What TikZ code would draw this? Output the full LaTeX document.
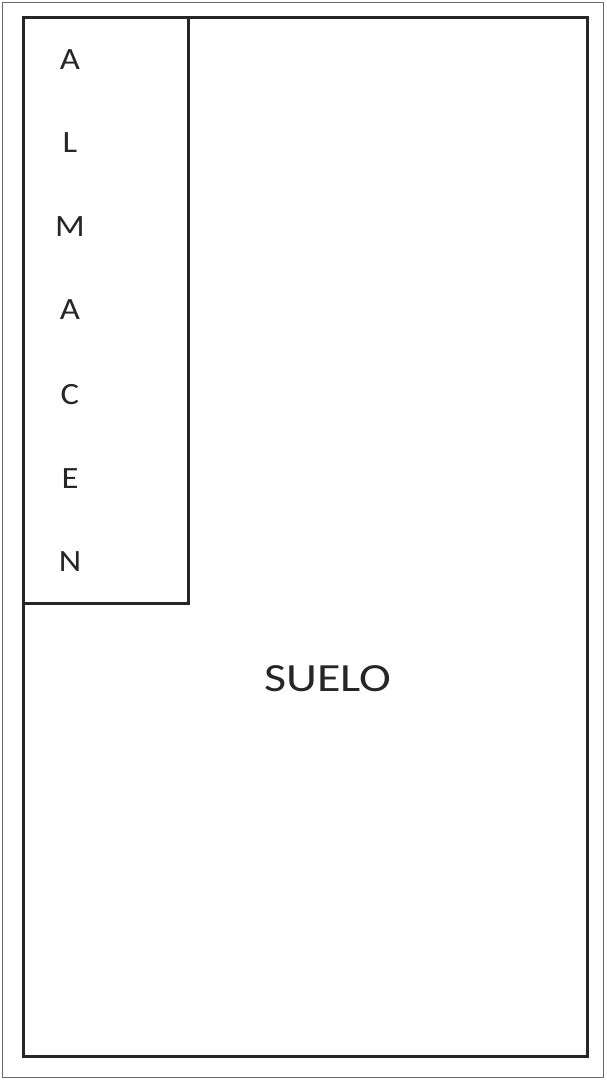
\documentclass[tikz,border=0pt]{standalone}
\usepackage{fontspec}
\setmainfont{Carlito}
\begin{document}
\begin{tikzpicture}[x=1pt,y=-1pt,
  frame/.style={draw=black!85,line width=2.8pt,outer sep=0pt,inner sep=0pt,anchor=north west},
  letter/.style={font=\fontsize{31}{32}\selectfont,text=black!85,xscale=1.12},
  label/.style={font=\fontsize{40}{44}\selectfont,text=black!85,xscale=1.2}]
\useasboundingbox (0,0) rectangle (606,1080);
\draw[black!60,line width=1.3pt] (2.5,2.5) rectangle (603.5,1077.5);
\node[frame,minimum width=564pt,minimum height=1039pt] (floor) at (23.5,17.5) {};
\node[frame,minimum width=165pt,minimum height=586pt] (store) at (23.5,17.5) {};
\foreach \l/\y [count=\i] in {A/60,L/143,M/227,A/310,C/395,E/479,N/562}
  \node[letter,transform shape] (l\i) at (70,\y) {\l};
\node[label,transform shape] (suelo) at (328,679) {SUELO};
\end{tikzpicture}
\end{document}
